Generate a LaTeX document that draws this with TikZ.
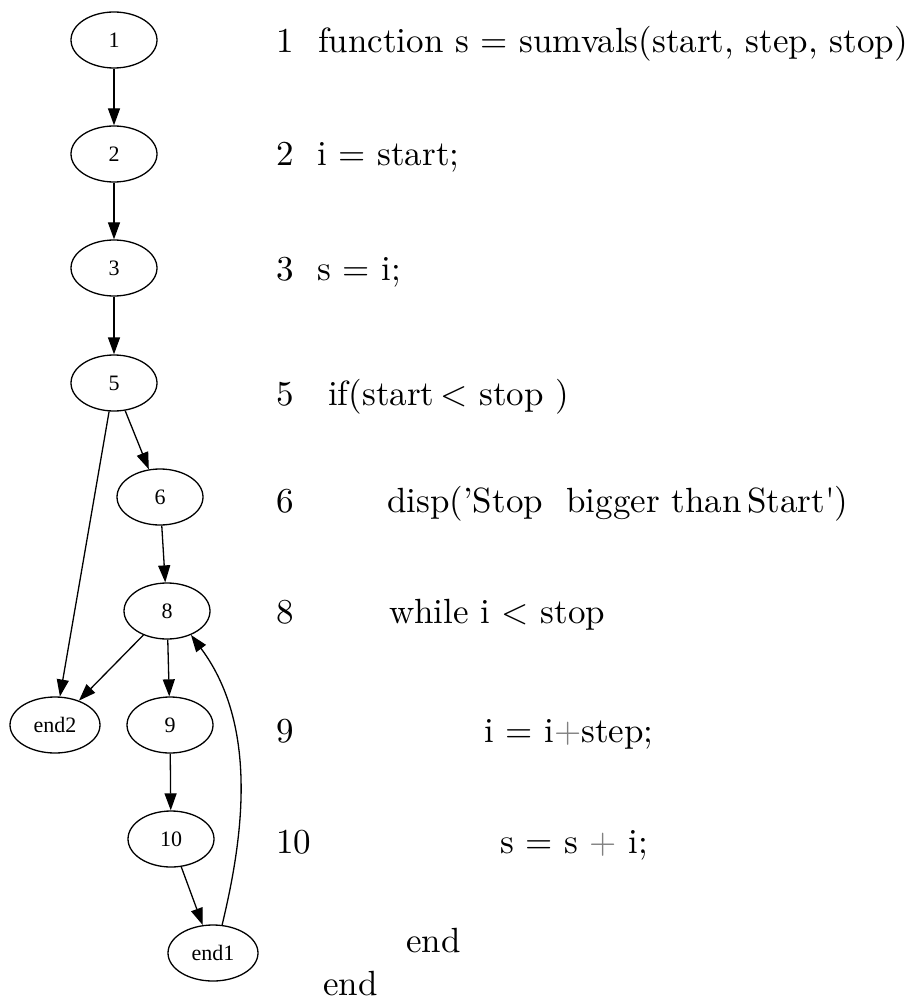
\documentclass[tikz,border=0pt]{standalone}
\usepackage{fontspec}
\newfontfamily\nodefont{Liberation Serif}
\newfontfamily\codefont{lmroman10-regular.otf}
\usetikzlibrary{arrows.meta,shapes.geometric}
\begin{document}
\begin{tikzpicture}[x=1pt,y=-1pt,
  vtx/.style={draw,ellipse,line width=1.3pt,minimum width=86pt,minimum height=56pt,inner sep=0pt,
    font=\nodefont\fontsize{22}{24}\selectfont},
  endvtx/.style={vtx,minimum width=90pt},
  arr/.style={line width=1.3pt,-{Triangle[length=17pt,width=12pt]}},
  code/.style={anchor=base west,inner sep=0pt,font=\codefont\fontsize{35}{40}\selectfont}]
\useasboundingbox (0,0) rectangle (917,1000);
% graph
\node[vtx] (n1) at (114,40) {1};
\node[vtx] (n2) at (114,154) {2};
\node[vtx] (n3) at (114,268) {3};
\node[vtx] (n5) at (114,383) {5};
\node[vtx] (n6) at (160,497) {6};
\node[vtx] (n8) at (167,611) {8};
\node[endvtx] (e2) at (55,725) {end2};
\node[vtx] (n9) at (170,725) {9};
\node[vtx] (n10) at (171,839) {10};
\node[endvtx] (e1) at (213,953) {end1};
\draw[arr] (n1) -- (n2);
\draw[arr] (n2) -- (n3);
\draw[arr] (n3) -- (n5);
\draw[arr] (n5) -- (n6);
\draw[arr] (n5) -- (e2);
\draw[arr] (n6) -- (n8);
\draw[arr] (n8) -- (e2);
\draw[arr] (n8) -- (n9);
\draw[arr] (n9) -- (n10);
\draw[arr] (n10) -- (e1);
\draw[arr] (e1.72) .. controls (240,850) and (262,730) .. (n8.-45);
% code
\node[code] (l1n) at (276,53) {1};
\node[code] (l1) at (318,53) {function s = sumvals(start, step, stop)};
\node[code] (l2n) at (276,166) {2};
\node[code] (l2) at (317,166) {i = start;};
\node[code] (l3n) at (276,280) {3};
\node[code] (l3) at (317,280) {s = i;};
\node[code] (l5n) at (276,405) {5};
\node[code] (l5) at (328,405) {if(start\,<\,\,stop\ )};
\node[code] (l6n) at (276,512) {6};
\node[code] (l6) at (387,512) {disp(’Stop\ \ bigger than\,Start\textquotesingle)};
\node[code] (l8n) at (276,623) {8};
\node[code] (l8) at (389,623) {while i < stop};
\node[code] (l9n) at (276,742) {9};
\node[code] (l9) at (484,742) {i = i{\color{gray}+}step;};
\node[code] (l10n) at (276,853) {10};
\node[code] (l10) at (500,853) {s = s {\color{gray}+} i;};
\node[code] (le1) at (406,952) {end};
\node[code] (le2) at (323,995) {end};
\end{tikzpicture}
\end{document}
